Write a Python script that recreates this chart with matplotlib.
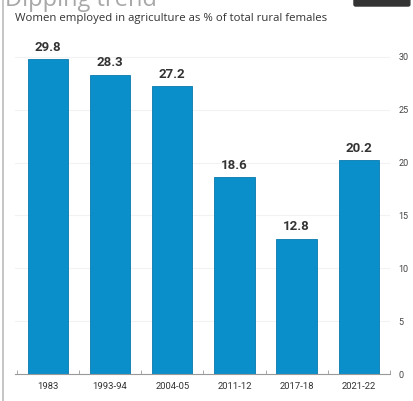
import matplotlib.pyplot as plt
from matplotlib.patches import FancyBboxPatch
from matplotlib.lines import Line2D

years = ['1983', '1993-94', '2004-05', '2011-12', '2017-18', '2021-22']
share = [29.8, 28.3, 27.2, 18.6, 12.8, 20.2]
yticks = [0, 5, 10, 15, 20, 25, 30]

narrow = ['Roboto', 'DejaVu Sans']

fig = plt.figure(figsize=(4.14, 4.01), dpi=100)
fig.patch.set_facecolor('white')

# clipped headline and the little dark tag top-right
fig.text(0.012, 1.0, 'Dipping trend', fontsize=17, color='#a8a8a8',
         va='center', ha='left', family=['Open Sans', 'DejaVu Sans'])
fig.patches.append(FancyBboxPatch((0.855, 0.985), 0.135, 0.04,
                                  boxstyle='round,pad=0,rounding_size=0.004',
                                  transform=fig.transFigure, color='#333333'))
fig.lines.append(Line2D([0.008, 0.008], [0.0, 1.0], transform=fig.transFigure,
                        color='#bbbbbb', lw=1.2))
fig.text(0.036, 0.955, 'Women employed in agriculture as % of total rural females',
         fontsize=8.2, color='#333333', va='center', ha='left',
         family=['Open Sans', 'DejaVu Sans'])

ax = fig.add_axes([0.036, 0.067, 0.906, 0.818])
x = range(len(years))
bars = ax.bar(x, share, width=0.65, color='#0a8fca', edgecolor='#0779ad',
              linewidth=0.6, zorder=2)
for xi, v in zip(x, share):
    ax.text(xi, v + 0.5, f'{v}', ha='center', va='bottom', fontsize=9.5,
            fontweight='bold', color='#333333', family=narrow)

ax.set_xlim(-0.53, 5.5)
ax.set_ylim(0, 31)
ax.set_yticks(yticks)
ax.yaxis.tick_right()
ax.tick_params(axis='y', length=0, pad=6, labelsize=6.5, labelcolor='#444444')
for lab in ax.get_yticklabels():
    lab.set_family(narrow)
ax.set_xticks(list(x))
ax.set_xticklabels(years, fontsize=6.8, color='#333333', family=narrow)
ax.tick_params(axis='x', length=0, pad=6)
ax.set_xticks([i - 0.5 for i in range(7)], minor=True)
ax.tick_params(axis='x', which='minor', direction='in', length=3,
               color='#999999', width=0.6)
ax.grid(axis='y', color='#f2f2f2', lw=0.8, zorder=0)
for s in ['top', 'left', 'right']:
    ax.spines[s].set_visible(False)
ax.spines['bottom'].set_color('#999999')
ax.spines['bottom'].set_linewidth(0.8)

fig.savefig('out.png', dpi=100)
